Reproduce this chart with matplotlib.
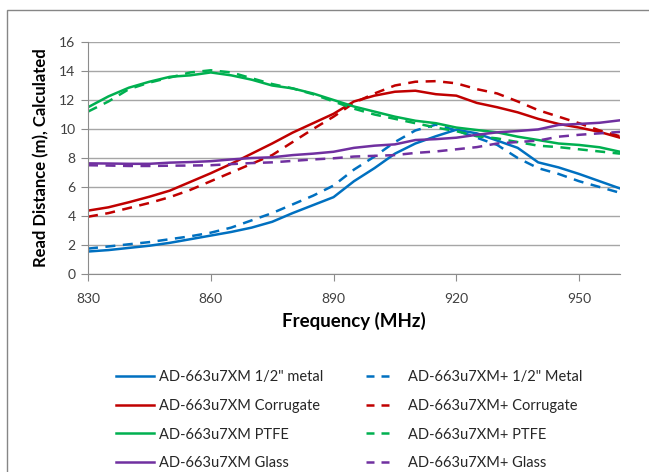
import matplotlib
matplotlib.use("Agg")
import matplotlib.pyplot as plt
from matplotlib.lines import Line2D
from matplotlib.patches import Rectangle

plt.rcParams["font.family"] = ["Lato", "DejaVu Sans"]

freq = [830, 835, 840, 845, 850, 855, 860, 865, 870, 875, 880, 885, 890,
        895, 900, 905, 910, 915, 920, 925, 930, 935, 940, 945, 950, 955, 960]

metal = [1.55, 1.65, 1.8, 1.95, 2.15, 2.4, 2.65, 2.9, 3.2, 3.6, 4.2, 4.75, 5.3,
         6.4, 7.3, 8.3, 9.0, 9.5, 9.95, 9.7, 9.2, 8.7, 7.7, 7.35, 6.9, 6.4, 5.9]
metal_p = [1.75, 1.9, 2.05, 2.2, 2.4, 2.6, 2.85, 3.2, 3.7, 4.2, 4.8, 5.4, 6.1,
           7.2, 8.1, 9.1, 9.9, 10.3, 9.9, 9.4, 8.9, 8.0, 7.3, 6.9, 6.4, 6.0, 5.6]
corr = [4.37, 4.6, 4.95, 5.33, 5.75, 6.35, 6.95, 7.6, 8.3, 9.0, 9.75, 10.4, 11.05,
        11.9, 12.3, 12.57, 12.64, 12.4, 12.3, 11.8, 11.5, 11.15, 10.7, 10.35, 10.1, 9.8, 9.4]
corr_p = [3.95, 4.2, 4.55, 4.9, 5.3, 5.8, 6.4, 7.0, 7.6, 8.2, 9.1, 10.0, 10.85,
          11.8, 12.45, 13.0, 13.26, 13.3, 13.15, 12.75, 12.45, 11.9, 11.3, 10.85, 10.4, 9.9, 9.5]
ptfe = [11.5, 12.25, 12.85, 13.26, 13.6, 13.7, 13.9, 13.7, 13.4, 13.0, 12.8, 12.45, 12.0,
        11.55, 11.2, 10.85, 10.57, 10.4, 10.1, 9.93, 9.77, 9.47, 9.24, 9.0, 8.9, 8.74, 8.43]
ptfe_p = [11.2, 11.9, 12.75, 13.2, 13.55, 13.9, 14.05, 13.9, 13.5, 13.1, 12.8, 12.4, 11.9,
          11.4, 11.0, 10.7, 10.4, 10.1, 9.85, 9.5, 9.35, 9.1, 8.85, 8.75, 8.6, 8.45, 8.3]
glass = [7.63, 7.62, 7.6, 7.6, 7.68, 7.72, 7.78, 7.9, 8.0, 8.05, 8.2, 8.3, 8.43,
         8.7, 8.85, 8.94, 9.24, 9.3, 9.4, 9.6, 9.77, 9.86, 9.97, 10.28, 10.35, 10.43, 10.6]
glass_p = [7.5, 7.48, 7.45, 7.45, 7.47, 7.48, 7.5, 7.58, 7.65, 7.7, 7.8, 7.9, 7.98,
           8.1, 8.15, 8.2, 8.35, 8.45, 8.6, 8.75, 9.0, 9.1, 9.2, 9.47, 9.6, 9.7, 9.8]

labels = ['AD-663u7XM 1/2" metal', "AD-663u7XM Corrugate", "AD-663u7XM PTFE", "AD-663u7XM Glass"]
labels_p = ['AD-663u7XM+ 1/2" Metal', "AD-663u7XM+ Corrugate", "AD-663u7XM+ PTFE", "AD-663u7XM+ Glass"]
colors = ["#0070C0", "#C00000", "#00B050", "#7030A0"]

fig = plt.figure(figsize=(6.49, 4.72), dpi=100)
fig.patches.append(Rectangle((7 / 649, -0.1), 1.2, 1 - 10 / 472 + 0.1, transform=fig.transFigure,
                             fill=False, edgecolor="#868686", lw=1.0))
ax = fig.add_axes([88 / 649, 1 - 274 / 472, (620 - 88) / 649, (274 - 42) / 472])

lw = 1.8
solid_h, dash_h = [], []
for ys, yp, c in zip([metal, corr, ptfe, glass], [metal_p, corr_p, ptfe_p, glass_p], colors):
    ax.plot(freq, ys, color=c, lw=lw, solid_capstyle="round")
    ax.plot(freq, yp, color=c, lw=lw, linestyle=(0, (4, 3)))
    solid_h.append(Line2D([], [], color=c, lw=lw))
    dash_h.append(Line2D([], [], color=c, lw=lw, linestyle=(0, (3.2, 2.8))))

ax.set_xlim(830, 960)
ax.set_ylim(0, 16)
ax.set_xticks([830, 860, 890, 920, 950])
ax.set_yticks(range(0, 17, 2))
ax.grid(axis="y", color="#a6a6a6", lw=1.0)
ax.set_axisbelow(True)
for s in ("top", "right"):
    ax.spines[s].set_visible(False)
for s in ("left", "bottom"):
    ax.spines[s].set_color("#8c8c8c")
ax.tick_params(axis="both", colors="#8c8c8c", labelcolor="#404040", labelsize=10, length=5)
ax.tick_params(axis="x", pad=9)
ax.tick_params(axis="y", pad=4)

ax.set_xlabel("Frequency (MHz)", fontsize=13.5, weight="bold", labelpad=5)
ax.set_ylabel("Read Distance (m), Calculated", fontsize=12, weight="bold", labelpad=7)

leg1 = fig.legend(solid_h, labels, loc="upper left", bbox_to_anchor=(110 / 649, 1 - 364 / 472),
                  frameon=False, fontsize=10.5, handlelength=2.6, handletextpad=0.35,
                  labelspacing=1.02, borderaxespad=0)
leg2 = fig.legend(dash_h, labels_p, loc="upper left", bbox_to_anchor=(360 / 649, 1 - 364 / 472),
                  frameon=False, fontsize=10.5, handlelength=2.1, handletextpad=0.8,
                  labelspacing=1.02, borderaxespad=0)
for leg in (leg1, leg2):
    for t in leg.get_texts():
        t.set_color("#262626")

fig.savefig("out.png", dpi=100)
